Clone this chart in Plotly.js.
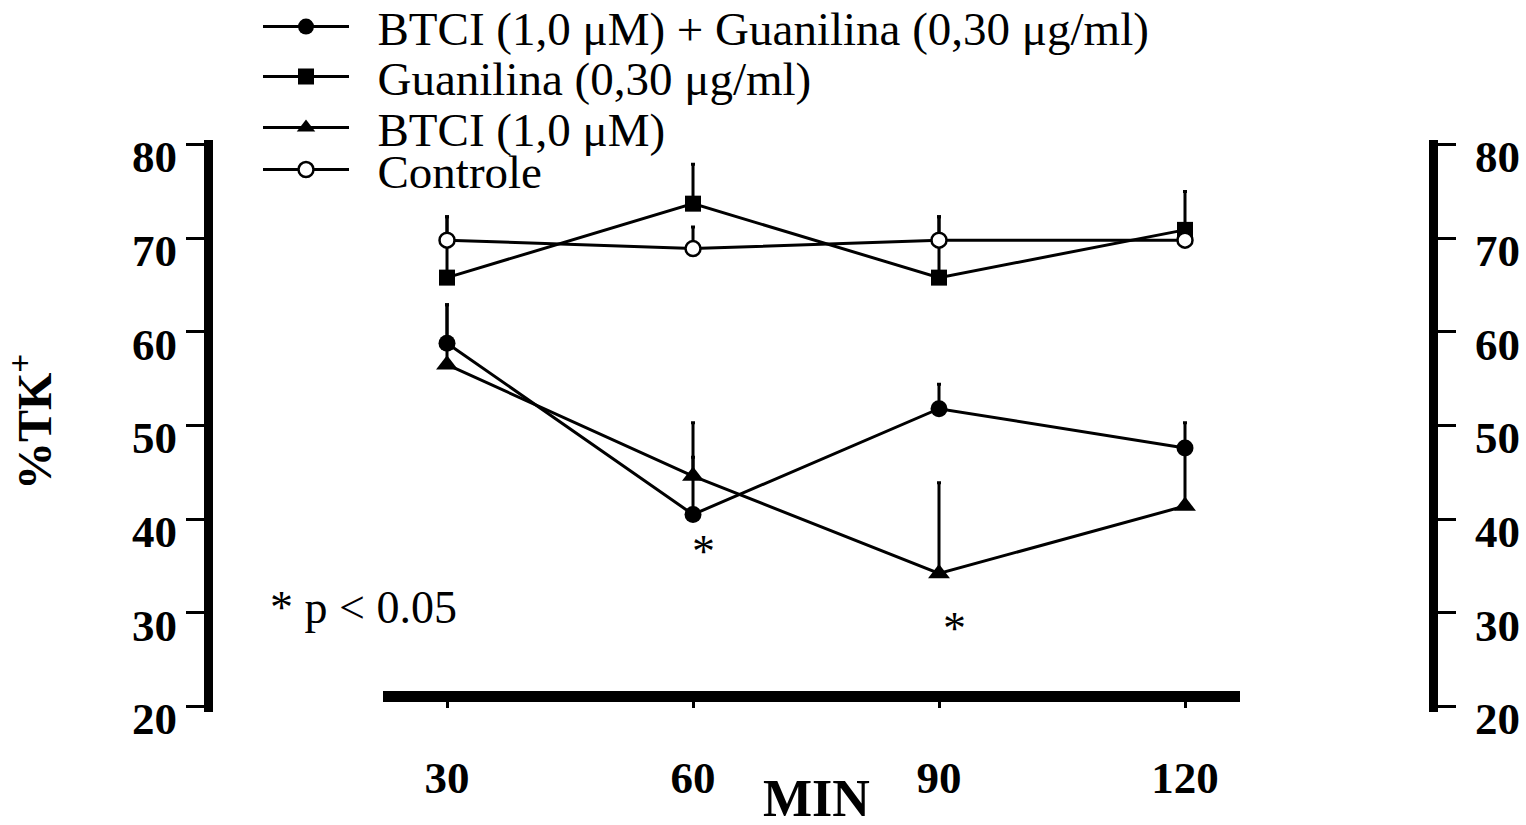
<!DOCTYPE html>
<html><head><meta charset="utf-8">
<script src="https://cdn.plot.ly/plotly-3.0.1.min.js"></script>
<style>html,body{margin:0;padding:0;background:#fff;}#chart{width:1526px;height:825px;}</style>
</head><body><div id="chart"></div>
<script>
const minutes = [30, 60, 90, 120];
const xTickLabels = ['30', '60', '90', '120'];
const yTickValues = [20, 30, 40, 50, 60, 70, 80];
const seriesNames = ['BTCI (1,0 μM) + Guanilina (0,30 μg/ml)', 'Guanilina (0,30 μg/ml)', 'BTCI (1,0 μM)', 'Controle'];
const btciGuan = [58.8, 40.5, 51.8, 47.6];
const btciGuanErr = [4.1, 6.1, 2.6, 2.7];
const guan = [65.8, 73.7, 65.8, 70.9];
const guanErr = [6.5, 4.2, 6.5, 4.1];
const btci = [56.5, 44.6, 34.2, 41.4];
const btciErr = [6.4, 5.7, 9.7, 6.2];
const controle = [69.8, 68.9, 69.8, 69.8];
const controleErr = [2.5, 2.3, 2.5, 0.8];
const sigLabel = '* p < 0.05';
const xTitle = 'MIN';
const yTitle = '%TK<sup>+</sup>';

const FONT = 'Liberation Serif, Times New Roman, serif';
const zeros = minutes.map(() => 0);

function series(name, y, err, symbol, fill, size, legendId, yaxis) {
  return {
    type: 'scatter', mode: 'lines+markers', name: '\u2002' + name, x: minutes, y: y,
    xaxis: 'x', yaxis: yaxis || 'y', legend: legendId,
    line: {color: '#000', width: 3},
    marker: {symbol: symbol, size: size, color: fill, line: {color: '#000', width: fill === '#fff' ? 2.5 : 0}},
    error_y: {type: 'data', symmetric: false, array: err, arrayminus: zeros, color: '#000', thickness: 3, width: 2}
  };
}

const traces = [
  series(seriesNames[3], controle, controleErr, 'circle', '#fff', 15, 'legend4', 'y2'),
  series(seriesNames[2], btci, btciErr, 'triangle-up', '#000', 19, 'legend3'),
  series(seriesNames[1], guan, guanErr, 'square', '#000', 16, 'legend2'),
  series(seriesNames[0], btciGuan, btciGuanErr, 'circle', '#000', 17, 'legend')
];

function legendAt(yc) {
  return {x: 258 / 1526, y: 1 - yc / 825, xref: 'container', yref: 'container', xanchor: 'left', yanchor: 'middle',
          bgcolor: 'rgba(0,0,0,0)', borderwidth: 0, itemwidth: 86,
          font: {family: FONT, size: 47, color: '#000'}};
}

const yAxisCommon = {
  range: [19.4, 80.5], tickvals: yTickValues, ticks: 'outside', ticklen: 18, tickwidth: 3, tickcolor: '#000',
  showline: true, linecolor: '#000', linewidth: 9, showgrid: false, zeroline: false,
  tickfont: {family: FONT, size: 45, color: '#000', weight: 'bold'}, ticklabelshift: 12,
  anchor: 'free', fixedrange: true
};

const layout = {
  width: 1526, height: 825, paper_bgcolor: '#fff', plot_bgcolor: 'rgba(0,0,0,0)',
  margin: {l: 208, r: 93, t: 140, b: 113.4, pad: 0, autoexpand: false},
  showlegend: true,
  font: {family: FONT, color: '#000'},
  xaxis: {
    domain: [0.1429, 0.8424], range: [22.2, 126.7], tickvals: minutes, ticktext: xTickLabels,
    anchor: 'free', position: 0.028, showline: true, linecolor: '#000', linewidth: 11,
    ticks: 'outside', ticklen: 6, tickwidth: 3, tickcolor: '#000', ticklabelstandoff: 31,
    showgrid: false, zeroline: false, tickfont: {family: FONT, size: 45, color: '#000', weight: 'bold'}
  },
  yaxis: Object.assign({}, yAxisCommon, {position: 0, side: 'left'}),
  yaxis2: Object.assign({}, yAxisCommon, {position: 1, side: 'right', overlaying: 'y', ticklabelstandoff: 10}),
  legend: legendAt(27), legend2: legendAt(77), legend3: legendAt(128), legend4: legendAt(170),
  annotations: [
    {text: xTitle, xref: 'x', yref: 'paper', x: 75, y: 0, yshift: -117, showarrow: false,
     font: {family: FONT, size: 52, color: '#000', weight: 'bold'}},
    {text: yTitle, xref: 'paper', yref: 'paper', x: (37 - 208) / 1225, xshift: -38, y: 0.507, textangle: -90, showarrow: false,
     font: {family: FONT, size: 48, color: '#000', weight: 'bold'}},
    {text: '*', xref: 'x', yref: 'y', x: 60, xshift: 10, y: 36.5, showarrow: false, font: {family: FONT, size: 46, color: '#000'}},
    {text: '*', xref: 'x', yref: 'y', x: 90, xshift: 15, y: 28.3, showarrow: false, font: {family: FONT, size: 46, color: '#000'}},
    {text: sigLabel, xref: 'paper', yref: 'y', x: (268 - 208) / 1225, xanchor: 'left', y: 30.6, showarrow: false,
     font: {family: FONT, size: 46, color: '#000'}}
  ]
};

Plotly.newPlot('chart', traces, layout, {displayModeBar: false, staticPlot: true});
</script>
</body></html>
